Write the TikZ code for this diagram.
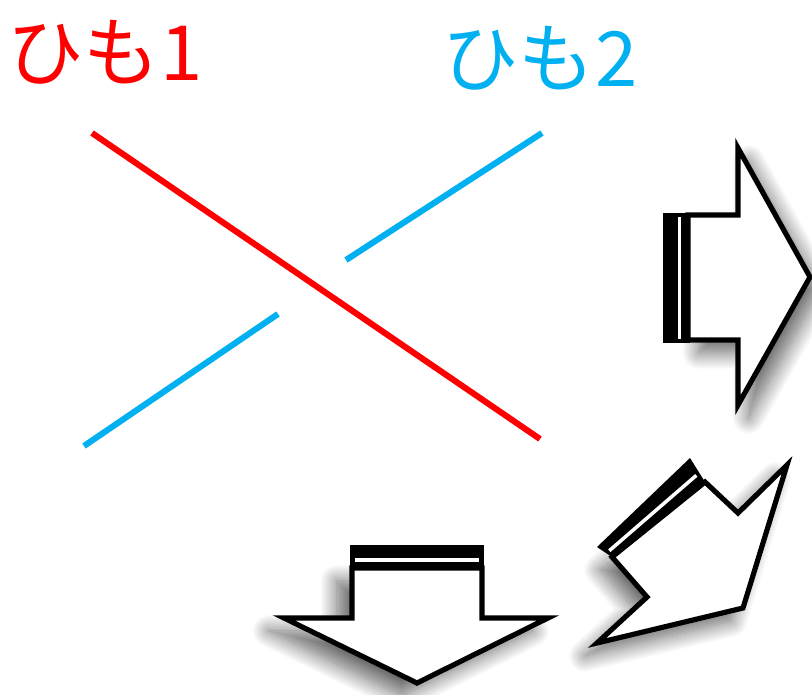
\documentclass[tikz,border=0pt]{standalone}
\usepackage{fontspec}
\newfontfamily\jpfont{Noto Sans CJK JP}
\usepackage{tikz}
\usetikzlibrary{calc, shadows.blur}
\definecolor{himored}  {RGB}{255, 0,   0}
\definecolor{himoblue} {RGB}{0,   176, 240}

\begin{document}
\begin{tikzpicture}[x=0.03cm,y=-0.03cm,
	himo/.style={line width=5.2pt},
	label/.style={font=\jpfont\fontsize{65}{65}\selectfont},
	bigarrow/.style={line width=4.4pt,fill=white,line join=miter,
		blur shadow={shadow xshift=#1,shadow yshift=-11pt,shadow blur radius=14pt,shadow blur steps=20,shadow opacity=60}},
	gap/.style={white,line width=3pt}]
						\useasboundingbox (0,0) rectangle (812,694);
						\node[label,text=himored]  (himo1) at (105,52) {ひも1};
						\node[label,text=himoblue] (himo2) at (540,58) {ひも2};
						\draw[himo,himored]  (92,133)--(540,439);
						\draw[himo,himoblue] (346,260)--(542,133);
						\draw[himo,himoblue] (84,446)--(278,314);
						\draw[bigarrow=9pt] (688,215)--(738,215)--(738,148)--(810,277)--(738,405)--(738,340)--(688,340)--cycle;
						\fill (663,213) rectangle (690,343);
						\draw[gap] (679.5,217)--(679.5,339);
						\draw[bigarrow=-13pt] (352,568)--(482,568)--(482,618)--(548,618)--(417,683)--(284,618)--(352,618)--cycle;
						\fill (350,545) rectangle (484,570);
						\draw[gap] (355,560)--(479,560);
						\coordinate (in1) at (612,557);
						\coordinate (in2) at (705,482);
						\coordinate (out1) at (597,547);
						\coordinate (out2) at (690,458);
						\draw[bigarrow=-10pt] (in2)--(738,513)--(787,465)--(743,608)--(597,643)--(647,597)--(in1)--cycle;
						\fill (in1)--(in2)--(out2)--(out1)--cycle;
						\draw[gap] ($(out1)!.62!(in1)+(3,-2.5)$)--($(out2)!.62!(in2)+(-3,2.5)$);
					\end{tikzpicture}
\end{document}
